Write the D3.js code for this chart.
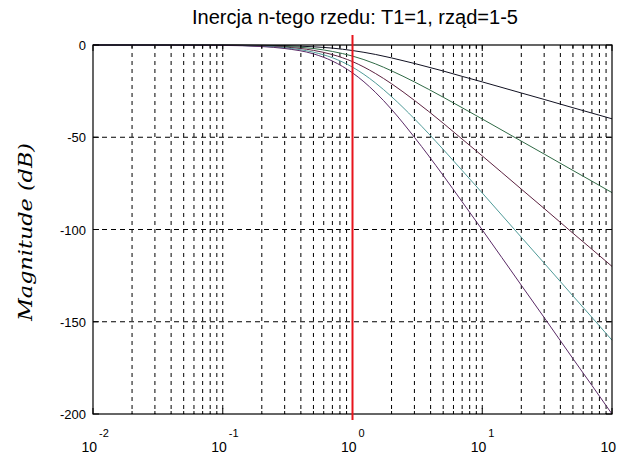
<!DOCTYPE html>
<html lang="pl">
<head>
    <meta charset="UTF-8">
    <title>Inercja n-tego rzedu</title>
    <script src="https://d3js.org/d3.v7.min.js"></script>
    <style>
        body { margin: 0; background: white; }
        svg { display: block; }
        text { font-family: Arial, "Liberation Sans", sans-serif; }
    </style>
</head>
<body>
    <svg id="chart" width="618" height="459"></svg>

    <script>
        // pulsacja (rad/s) i odczytane wartosci modulu (dB) dla rzedu 1..5
        const freq = [0.01, 0.1, 0.2, 0.3, 0.5, 0.7, 1, 1.5, 2, 3, 5, 7, 10, 20, 30, 50, 70, 100];
        const order1 = [0, -0.04, -0.17, -0.37, -0.97, -1.7, -3.0, -5.1, -7.0, -10.0, -14.1, -17.0, -20.0, -26.0, -29.5, -34.0, -36.9, -40.0];
        const order2 = [0, -0.09, -0.34, -0.75, -1.9, -3.5, -6.0, -10.2, -14.0, -20.0, -28.3, -34.0, -40.1, -52.1, -59.1, -68.0, -73.8, -80.0];
        const order3 = [0, -0.13, -0.51, -1.1, -2.9, -5.2, -9.0, -15.4, -21.0, -30.0, -42.4, -51.0, -60.1, -78.1, -88.6, -102.0, -110.7, -120.0];
        const order4 = [0, -0.17, -0.68, -1.5, -3.9, -6.9, -12.0, -20.5, -28.0, -40.0, -56.6, -68.0, -80.2, -104.2, -118.2, -136.0, -147.6, -160.0];
        const order5 = [0, -0.22, -0.85, -1.9, -4.8, -8.7, -15.1, -25.6, -34.9, -50.0, -70.7, -85.0, -100.2, -130.2, -147.7, -170.0, -184.5, -200.0];
        const series = [order1, order2, order3, order4, order5];
        const colors = ["#111122", "#2f6a45", "#5c2240", "#4f9a98", "#5a2a66"];

        const yTicks = [0, -50, -100, -150, -200];
        const xDecades = [-2, -1, 0, 1, 2];
        const cutoff = 1; // T1 = 1

        const svg = d3.select("#chart");
        const margin = { left: 93, right: 6, top: 45, bottom: 45 };
        const width = 618, height = 459;

        const x = d3.scaleLog().domain([0.01, 100]).range([margin.left, width - margin.right]);
        const y = d3.scaleLinear().domain([-200, 0]).range([height - margin.bottom, margin.top]);

        const x0 = x.range()[0], x1 = x.range()[1];
        const y0 = y.range()[0], y1 = y.range()[1];

        // minor + major vertical grid
        const gridX = [];
        for (let d = -2; d < 2; d++) {
            for (let k = 1; k <= 9; k++) {
                if (k === 1 && d === -2) continue;
                gridX.push(k * Math.pow(10, d));
            }
        }

        svg.append("g")
            .selectAll("line")
            .data(gridX)
            .enter()
            .append("line")
            .attr("x1", d => x(d))
            .attr("x2", d => x(d))
            .attr("y1", y1)
            .attr("y2", y0)
            .attr("stroke", "black")
            .attr("stroke-width", 1)
            .attr("stroke-dasharray", "4,4");

        svg.append("g")
            .selectAll("line")
            .data(yTicks.slice(1, -1))
            .enter()
            .append("line")
            .attr("x1", x0)
            .attr("x2", x1)
            .attr("y1", d => y(d))
            .attr("y2", d => y(d))
            .attr("stroke", "black")
            .attr("stroke-width", 1.2)
            .attr("stroke-dasharray", "5,4");

        // curves
        const line = d3.line()
            .x((d, i) => x(freq[i]))
            .y(d => y(d))
            .curve(d3.curveMonotoneX);

        svg.append("g")
            .selectAll("path")
            .data(series)
            .enter()
            .append("path")
            .attr("d", d => line(d))
            .attr("fill", "none")
            .attr("stroke", (d, i) => colors[i])
            .attr("stroke-width", 1);

        // box
        svg.append("rect")
            .attr("x", x0)
            .attr("y", y1)
            .attr("width", x1 - x0)
            .attr("height", y0 - y1)
            .attr("fill", "none")
            .attr("stroke", "black")
            .attr("stroke-width", 1.2);

        // tick marks inside the box
        const ticks = svg.append("g").attr("stroke", "black");
        gridX.concat([0.01, 100]).forEach(v => {
            const len = Number.isInteger(Math.log10(v)) ? 6 : 3;
            ticks.append("line").attr("x1", x(v)).attr("x2", x(v)).attr("y1", y0).attr("y2", y0 - len);
            ticks.append("line").attr("x1", x(v)).attr("x2", x(v)).attr("y1", y1).attr("y2", y1 + len);
        });
        yTicks.forEach(v => {
            ticks.append("line").attr("x1", x0).attr("x2", x0 + 6).attr("y1", y(v)).attr("y2", y(v));
            ticks.append("line").attr("x1", x1).attr("x2", x1 - 6).attr("y1", y(v)).attr("y2", y(v));
        });

        // red line at cutoff
        svg.append("line")
            .attr("x1", x(cutoff))
            .attr("x2", x(cutoff))
            .attr("y1", y1 - 10)
            .attr("y2", y0 + 6)
            .attr("stroke", "#e8141c")
            .attr("stroke-width", 2);

        // y tick labels
        svg.append("g")
            .selectAll("text")
            .data(yTicks)
            .enter()
            .append("text")
            .attr("x", x0 - 7)
            .attr("y", d => y(d) + 5)
            .attr("text-anchor", "end")
            .style("font-size", "13px")
            .text(d => d);

        // x tick labels: 10^n
        const xl = svg.append("g")
            .selectAll("g")
            .data(xDecades)
            .enter()
            .append("g")
            .attr("transform", d => `translate(${x(Math.pow(10, d))},0)`);
        xl.append("text")
            .attr("x", 4)
            .attr("y", 452)
            .attr("text-anchor", "end")
            .style("font-size", "14px")
            .text("10");
        xl.append("text")
            .attr("x", 6)
            .attr("y", 437)
            .style("font-size", "11px")
            .text(d => d);

        // title
        svg.append("text")
            .attr("x", 355)
            .attr("y", 24)
            .attr("text-anchor", "middle")
            .style("font-size", "20px")
            .attr("textLength", 326)
            .attr("lengthAdjust", "spacingAndGlyphs")
            .text("Inercja n-tego rzedu: T1=1, rząd=1-5");

        // y label
        svg.append("text")
            .attr("transform", "translate(32,232) rotate(-90)")
            .attr("text-anchor", "middle")
            .attr("textLength", 178)
            .attr("lengthAdjust", "spacingAndGlyphs")
            .style("font-family", "'DejaVu Serif', serif")
            .style("font-style", "italic")
            .style("font-size", "18px")
            .text("Magnitude (dB)");
    </script>
</body>
</html>
